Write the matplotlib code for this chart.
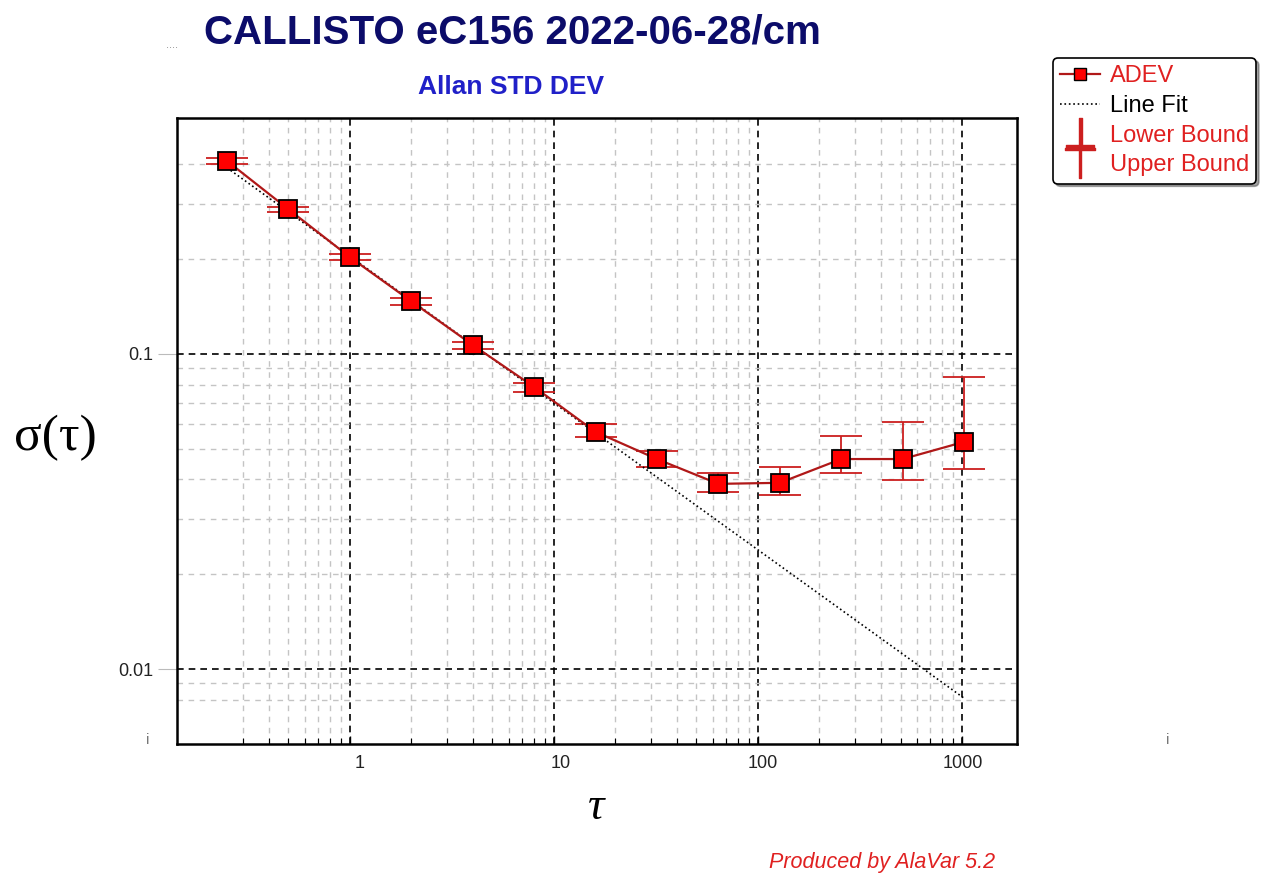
import matplotlib
matplotlib.use("Agg")
from matplotlib import pyplot as plt
from matplotlib.lines import Line2D

# values
tau = [0.25, 0.5, 1, 2, 4, 8, 16, 32, 64, 128, 256, 512, 1024]
adev = [0.410, 0.288, 0.203, 0.147, 0.1068, 0.0786, 0.0566, 0.0464,
        0.0387, 0.0390, 0.0464, 0.0464, 0.0526]
lower = [0.402, 0.283, 0.199, 0.143, 0.1037, 0.0759, 0.0544, 0.0437,
         0.0364, 0.0357, 0.0418, 0.0398, 0.0431]
upper = [0.418, 0.293, 0.207, 0.1505, 0.1092, 0.0807, 0.0600, 0.0493,
         0.0418, 0.0437, 0.0549, 0.0610, 0.0847]
fit_tau = [0.25, 1024]
fit_sigma = [0.390, 0.00808]

x_major = [1, 10, 100, 1000]
x_major_labels = ["1", "10", "100", "1000"]
x_minor = [0.3, 0.4, 0.5, 0.6, 0.7, 0.8, 0.9,
           2, 3, 4, 5, 6, 7, 8, 9,
           20, 30, 40, 50, 60, 70, 80, 90,
           200, 300, 400, 500, 600, 700, 800, 900]
y_major = [0.01, 0.1]
y_major_labels = ["0.01", "0.1"]
y_minor = [0.008, 0.009, 0.02, 0.03, 0.04, 0.05, 0.06, 0.07, 0.08, 0.09,
           0.2, 0.3, 0.4]

plt.rcParams['font.family'] = ['Liberation Sans', 'DejaVu Sans']

fig = plt.figure(figsize=(12.82, 8.81), dpi=100)
ax = fig.add_axes([0.138, 0.1555, 0.6553, 0.7105])

ax.set_xscale("log")
ax.set_yscale("log")
ax.set_xlim(0.142, 1862)
ax.set_ylim(0.00578, 0.561)

ax.set_xticks(x_major)
ax.set_xticklabels(x_major_labels)
ax.set_xticks(x_minor, minor=True)
ax.set_xticklabels([], minor=True)
ax.set_yticks(y_major)
ax.set_yticklabels(y_major_labels)
ax.set_yticks(y_minor, minor=True)
ax.set_yticklabels([], minor=True)

ax.grid(which="minor", color="#c4c4c4", linestyle=(0, (4, 4)), linewidth=1.0)
ax.grid(which="major", color="black", linestyle=(0, (4, 3)), linewidth=1.2)
ax.set_axisbelow(True)

ax.tick_params(axis="x", which="major", direction="in", length=6, width=1,
               labelsize=13, labelcolor="#222222", pad=8)
ax.tick_params(axis="x", which="minor", direction="in", length=4, width=0.8)
ax.tick_params(axis="y", which="major", direction="out", length=14, width=0.8,
               color="#bbbbbb", labelsize=13, labelcolor="#222222", pad=3)
ax.tick_params(axis="y", which="minor", length=0)
for s in ax.spines.values():
    s.set_linewidth(1.8)

# nudge x labels like AlaVar does
for lbl, dx in zip(ax.get_xticklabels(), [10, 7, 5, 1]):
    lbl.set_x(lbl.get_position()[0])
    lbl.set_transform(lbl.get_transform() + matplotlib.transforms.Affine2D().translate(dx, 0))

red = "#cc1f1f"
yerr = [[a - l for a, l in zip(adev, lower)], [u - a for a, u in zip(adev, upper)]]
ax.errorbar(tau, adev, yerr=yerr, fmt="none", ecolor=red, elinewidth=1.3,
            capsize=15, capthick=1.3, zorder=3)
ax.plot(fit_tau, fit_sigma, color="black", linestyle=":", linewidth=1.2, zorder=4)
ax.plot(tau, adev, color="#b01818", linewidth=1.6, marker="s", markersize=13,
        markerfacecolor="#ff0000", markeredgecolor="black", markeredgewidth=1.3,
        zorder=5)

# labels and titles
fig.text(0.40, 0.963, "CALLISTO eC156 2022-06-28/cm", fontsize=29,
         fontweight="bold", color="#0c0c6a", ha="center", va="center")
fig.text(0.134, 0.945, "....", fontsize=8, color="#888888", ha="center")
fig.text(0.399, 0.901, "Allan STD DEV", fontsize=19, fontweight="bold",
         color="#2020c8", ha="center", va="center")
fig.text(0.043, 0.503, "σ(τ)", fontsize=37, family=["Liberation Serif", "DejaVu Serif"],
         ha="center", va="center")
fig.text(0.465, 0.083, "τ", fontsize=33, style="italic",
         family=["Liberation Serif", "DejaVu Serif"], ha="center", va="center")
fig.text(0.688, 0.021, "Produced by AlaVar 5.2", fontsize=15.5, style="italic",
         color="#e02020", ha="center", va="center")
fig.text(0.1155, 0.16, "i", fontsize=11, color="#777777", ha="center", va="center")
fig.text(0.911, 0.16, "i", fontsize=11, color="#777777", ha="center", va="center")

handles = [
    Line2D([], [], color="#b01818", lw=1.6, marker="s", markersize=9,
           markerfacecolor="#ff0000", markeredgecolor="black"),
    Line2D([], [], color="black", lw=1.2, linestyle=":"),
    Line2D([], [], color=red, ls="none", marker="$\\perp$", markersize=22),
    Line2D([], [], color=red, ls="none", marker="$\\top$", markersize=22),
]
labels = ["ADEV", "Line Fit", "Lower Bound", "Upper Bound"]
leg = fig.legend(handles, labels, loc="upper left",
                 bbox_to_anchor=(0.8214, 0.9342), fontsize=17,
                 frameon=True, fancybox=True, shadow=True, edgecolor="black",
                 handlelength=1.7, handletextpad=0.4, labelspacing=0.33,
                 borderpad=0.3, borderaxespad=0.0)
leg.get_frame().set_linewidth(1.2)
for t, c in zip(leg.get_texts(), ["#e02020", "black", "#e02020", "#e02020"]):
    t.set_color(c)

fig.savefig("out.png", dpi=100)
